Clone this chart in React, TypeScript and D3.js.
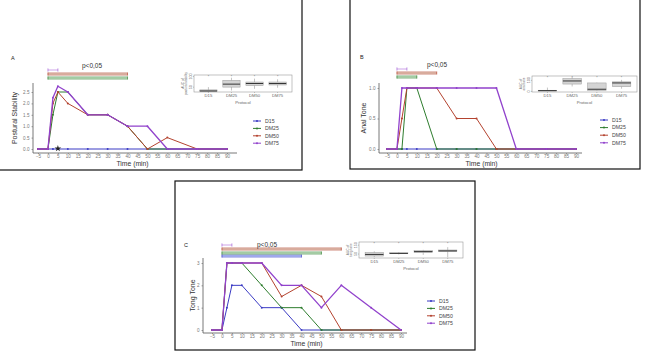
import React, { useRef, useEffect } from 'react';
import * as d3 from 'd3';

// time points (min) and x tick labels
const times = [-5, 0, 2.5, 5, 10, 20, 30, 40, 50, 60, 75, 90];
const xTickLabels = [-5, 0, 5, 10, 15, 20, 25, 30, 35, 40, 45, 50, 55, 60, 65, 70, 75, 80, 85, 90];
const protocols = ['D15', 'DM25', 'DM50', 'DM75'];

// A - postural stability
const postD15 = [0, 0, 0, 0, 0, 0, 0, 0, 0, 0, 0, 0];
const postDM25 = [0, 0, 1.5, 2.5, 2.5, 1.5, 1.5, 1.0, 0, 0, 0, 0];
const postDM50 = [0, 0, 2.0, 2.5, 2.0, 1.5, 1.5, 1.0, 0, 0.5, 0, 0];
const postDM75 = [0, 0, 2.25, 2.75, 2.5, 1.5, 1.5, 1.0, 1.0, 0, 0, 0];
const postTicks = [0, 0.5, 1, 1.5, 2, 2.5];
const postSigEnds = [null, 40, 40, 5]; // D15, DM25, DM50, DM75
const postAuc = [
  [27, 28, 30, 35, 48],
  [32, 48, 62, 80, 92],
  [40, 55, 65, 72, 88],
  [45, 58, 65, 72, 85],
];

// B - anal tone
const analD15 = [0, 0, 0, 0, 0, 0, 0, 0, 0, 0, 0, 0];
const analDM25 = [0, 0, 0, 1, 1, 0, 0, 0, 0, 0, 0, 0];
const analDM50 = [0, 0, 0.5, 1, 1, 1, 0.5, 0.5, 0, 0, 0, 0];
const analDM75 = [0, 0, 1, 1, 1, 1, 1, 1, 1, 0, 0, 0];
const analTicks = [0, 0.5, 1];
const analSigEnds = [null, 10, 20, 5];
const analAuc = [
  [0, 0, 2, 6, 30],
  [40, 62, 90, 112, 125],
  [0, 5, 15, 72, 75],
  [20, 38, 72, 82, 100],
];

// C - tong tone
const tongD15 = [0, 0, 1, 2, 2, 1, 1, 0, 0, 0, 0, 0];
const tongDM25 = [0, 0, 3, 3, 3, 2, 1, 1, 0, 0, 0, 0];
const tongDM50 = [0, 0, 3, 3, 3, 3, 1.5, 2, 1.5, 0, 0, 0];
const tongDM75 = [0, 0, 3, 3, 3, 3, 2, 2, 1, 2, 1, 0];
const tongTicks = [0, 1, 2, 3];
const tongSigEnds = [40, 50, 60, 5];
const tongAuc = [
  [10, 22, 40, 62, 75],
  [40, 48, 52, 58, 66],
  [35, 62, 72, 82, 92],
  [8, 72, 80, 90, 122],
];

const colors = ['#3b3bc4', '#2e7d2e', '#b4432f', '#9142cc'];
const lightColors = ['#9ea8ec', '#a3cba3', '#d8ab9c', '#d6b2ec'];
const font = 'Liberation Sans, Arial, sans-serif';

const panels = [
  {
    letter: 'A', letterPos: [11, 60],
    frame: [-2, -2, 304, 172],
    xRange: [38, 227], yDomain: [0, 2.5], yRange: [149, 92],
    axisY: 153, axisX: 33, axisXEnd: 237, axisYTop: 83,
    series: [postD15, postDM25, postDM50, postDM75],
    ticks: postTicks, tickFmt: d3.format('.1f'),
    ylabel: 'Postural Stability', ylabelX: 15,
    sig: postSigEnds, sigY: [null, 78, 74, 70], pPos: [92, 68],
    star: true,
    inset: { box: [194, 75, 98, 17], domain: [25, 105], ticks: [50, 100], data: postAuc, label: ['AUC of', 'postural stability'] },
    legend: [253, 121, 7.4],
  },
  {
    letter: 'B', letterPos: [360, 59],
    frame: [350, -2, 290, 171],
    xRange: [387, 576], yDomain: [0, 1], yRange: [149, 88],
    axisY: 153, axisX: 379, axisXEnd: 582, axisYTop: 83,
    series: [analD15, analDM25, analDM50, analDM75],
    ticks: analTicks, tickFmt: d3.format('.1f'),
    ylabel: 'Anal Tone', ylabelX: 364,
    sig: analSigEnds, sigY: [null, 77, 73, 69], pPos: [437, 67],
    star: false,
    inset: { box: [532, 76, 105, 16], domain: [-10, 135], ticks: [0, 100], data: analAuc, label: ['AUC of', 'anal tone'] },
    legend: [600, 120, 7.6],
  },
  {
    letter: 'C', letterPos: [184, 247],
    frame: [175, 181, 300, 169],
    xRange: [212, 401], yDomain: [0, 3], yRange: [330, 263],
    axisY: 333, axisX: 203, axisXEnd: 407, axisYTop: 258,
    series: [tongD15, tongDM25, tongDM50, tongDM75],
    ticks: tongTicks, tickFmt: d3.format('d'),
    ylabel: 'Tong Tone', ylabelX: 193,
    sig: tongSigEnds, sigY: [256, 253, 249, 245], pPos: [267, 247],
    star: false,
    inset: { box: [359, 242, 104, 16], domain: [0, 180], ticks: [50, 150], data: tongAuc, label: ['AUC of', 'tong tone'] },
    legend: [427, 301, 7.4],
  },
];

const drawPanel = (svg, p) => {
  const g = svg.append('g');
  const [fx, fy, fw, fh] = p.frame;
  g.append('rect')
    .attr('x', fx).attr('y', fy).attr('width', fw).attr('height', fh)
    .attr('fill', 'white').attr('stroke', '#111').attr('stroke-width', 1.2);

  const x = d3.scaleLinear().domain([-5, 90]).range(p.xRange);
  const y = d3.scaleLinear().domain(p.yDomain).range(p.yRange);

  // axis lines
  g.append('line')
    .attr('x1', p.axisX).attr('x2', p.axisXEnd).attr('y1', p.axisY).attr('y2', p.axisY)
    .attr('stroke', '#555').attr('stroke-width', 0.8);
  g.append('line')
    .attr('x1', p.axisX).attr('x2', p.axisX).attr('y1', p.axisYTop).attr('y2', p.axisY)
    .attr('stroke', '#555').attr('stroke-width', 0.8);

  // x ticks
  const xa = g.append('g').attr('transform', `translate(0,${p.axisY})`)
    .call(d3.axisBottom(x).tickValues(xTickLabels).tickSize(1).tickPadding(0.5));
  xa.select('.domain').remove();
  xa.selectAll('line').attr('stroke', '#666').attr('stroke-width', 0.6);
  xa.selectAll('text').attr('font-size', 4.6).attr('fill', '#777').attr('font-family', font);

  const ya = g.append('g').attr('transform', `translate(${p.axisX},0)`)
    .call(d3.axisLeft(y).tickValues(p.ticks).tickFormat(p.tickFmt).tickSize(1.5).tickPadding(2));
  ya.select('.domain').remove();
  ya.selectAll('line').attr('stroke', '#666').attr('stroke-width', 0.6);
  ya.selectAll('text').attr('font-size', 4.6).attr('fill', '#777').attr('font-family', font);

  // axis titles
  g.append('text')
    .attr('x', (p.xRange[0] + p.xRange[1]) / 2).attr('y', p.axisY + 12.5)
    .attr('text-anchor', 'middle').attr('font-size', 6.8).attr('fill', '#333')
    .attr('font-family', font).text('Time (min)');
  g.append('text')
    .attr('transform', `translate(${p.ylabelX},${(p.axisYTop + p.axisY) / 2}) rotate(-90)`)
    .attr('text-anchor', 'middle').attr('dy', '0.35em').attr('font-size', 7).attr('fill', '#333')
    .attr('font-family', font).text(p.ylabel);

  g.append('text')
    .attr('x', p.letterPos[0]).attr('y', p.letterPos[1])
    .attr('font-size', 5.5).attr('fill', '#222').attr('font-family', font).text(p.letter);

  // significance bars
  p.sig.forEach((end, i) => {
    if (end === null) return;
    const by = p.sigY[i];
    const x0 = x(0), x1 = x(end);
    if (i === 3) {
      g.append('line').attr('x1', x0).attr('x2', x1).attr('y1', by).attr('y2', by)
        .attr('stroke', lightColors[i]).attr('stroke-width', 1.2);
    } else {
      g.append('rect').attr('x', x0).attr('y', by - 1.2).attr('width', x1 - x0).attr('height', 2.4)
        .attr('fill', lightColors[i]).attr('stroke', colors[i]).attr('stroke-width', 0.4).attr('stroke-opacity', 0.6);
    }
    [x0, x1].forEach(cx => {
      g.append('line').attr('x1', cx).attr('x2', cx).attr('y1', by - 1.6).attr('y2', by + 1.6)
        .attr('stroke', colors[i]).attr('stroke-width', 0.7).attr('stroke-opacity', 0.8);
    });
  });
  g.append('text')
    .attr('x', p.pPos[0]).attr('y', p.pPos[1])
    .attr('text-anchor', 'middle').attr('font-size', 6.5).attr('fill', '#333')
    .attr('font-family', font).text('p<0,05');

  // lines and points
  const line = d3.line().x((d, i) => x(times[i])).y(d => y(d));
  p.series.forEach((vals, s) => {
    g.append('path').datum(vals)
      .attr('d', line).attr('fill', 'none')
      .attr('stroke', colors[s]).attr('stroke-width', s === 3 ? 1.3 : 1.0)
      .attr('stroke-linejoin', 'round');
    g.selectAll(null).data(vals).enter().append('circle')
      .attr('cx', (d, i) => x(times[i])).attr('cy', d => y(d)).attr('r', 1)
      .attr('fill', colors[s]);
  });

  if (p.star) {
    g.append('path')
      .attr('d', d3.symbol().type(d3.symbolStar).size(14)())
      .attr('transform', `translate(${x(5)},${y(0) - 0.5})`)
      .attr('fill', '#222');
  }

  // inset boxplot
  const ins = p.inset;
  const [ix, iy, iw, ih] = ins.box;
  const ig = g.append('g');
  ig.append('rect').attr('x', ix).attr('y', iy).attr('width', iw).attr('height', ih)
    .attr('fill', 'white').attr('stroke', '#999').attr('stroke-width', 0.6);
  const bx = d3.scaleBand().domain(protocols).range([ix, ix + iw]).padding(0.25);
  const by = d3.scaleLinear().domain(ins.domain).range([iy + ih, iy]);
  ins.data.forEach((b, i) => {
    const cx = bx(protocols[i]) + bx.bandwidth() / 2;
    ig.append('line').attr('x1', cx).attr('x2', cx).attr('y1', by(b[0])).attr('y2', by(b[4]))
      .attr('stroke', '#888').attr('stroke-width', 0.5);
    ig.append('rect').attr('x', bx(protocols[i])).attr('y', by(b[3]))
      .attr('width', bx.bandwidth()).attr('height', by(b[1]) - by(b[3]))
      .attr('fill', '#d4d4d4').attr('stroke', '#999').attr('stroke-width', 0.5);
    ig.append('line').attr('x1', bx(protocols[i])).attr('x2', bx(protocols[i]) + bx.bandwidth())
      .attr('y1', by(b[2])).attr('y2', by(b[2]))
      .attr('stroke', '#222').attr('stroke-width', 0.9);
    ig.append('text').attr('x', cx).attr('y', iy + 3.2).attr('text-anchor', 'middle')
      .attr('font-size', 3.5).attr('fill', '#666').attr('font-family', font).text('*');
  });
  const iya = ig.append('g').attr('transform', `translate(${ix},0)`)
    .call(d3.axisLeft(by).tickValues(ins.ticks).tickSize(1).tickPadding(1));
  iya.select('.domain').remove();
  iya.selectAll('line').attr('stroke', '#777').attr('stroke-width', 0.4);
  iya.selectAll('text').attr('font-size', 3.6).attr('fill', '#666').attr('font-family', font)
    .attr('text-anchor', 'middle').attr('dy', 0).attr('x', 0)
    .attr('transform', 'translate(-2,0) rotate(-90)');
  const ixa = ig.append('g').attr('transform', `translate(0,${iy + ih})`)
    .call(d3.axisBottom(bx).tickSize(1).tickPadding(1.5));
  ixa.select('.domain').remove();
  ixa.selectAll('line').attr('stroke', '#777').attr('stroke-width', 0.4);
  ixa.selectAll('text').attr('font-size', 4.2).attr('fill', '#666').attr('font-family', font);
  ig.append('text').attr('x', ix + iw / 2).attr('y', iy + ih + 11.5).attr('text-anchor', 'middle')
    .attr('font-size', 4.2).attr('fill', '#666').attr('font-family', font).text('Protocol');
  ins.label.forEach((l, k) => {
    ig.append('text')
      .attr('transform', `translate(${ix - 10.5 + k * 3.6},${iy + ih / 2}) rotate(-90)`)
      .attr('text-anchor', 'middle').attr('font-size', 3.2).attr('fill', '#666')
      .attr('font-family', font).text(l);
  });

  // legend
  const [lx, ly, step] = p.legend;
  protocols.forEach((name, i) => {
    const yy = ly + i * step;
    g.append('line').attr('x1', lx).attr('x2', lx + 8).attr('y1', yy).attr('y2', yy)
      .attr('stroke', colors[i]).attr('stroke-width', 1);
    g.append('circle').attr('cx', lx + 4).attr('cy', yy).attr('r', 1).attr('fill', colors[i]);
    g.append('text').attr('x', lx + 12).attr('y', yy).attr('dy', '0.35em')
      .attr('font-size', 5.2).attr('fill', '#444').attr('font-family', font).text(name);
  });
};

const App = () => {
  const svgRef = useRef(null);

  useEffect(() => {
    const svg = d3.select(svgRef.current);
    svg.selectAll('*').remove();
    svg.append('rect').attr('width', 647).attr('height', 351).attr('fill', 'white');
    panels.forEach(p => drawPanel(svg, p));
  }, []);

  return (
    <svg
      ref={svgRef}
      width={647}
      height={351}
      style={{ position: 'absolute', left: 0, top: 0, display: 'block' }}
    />
  );
};

export default App;
